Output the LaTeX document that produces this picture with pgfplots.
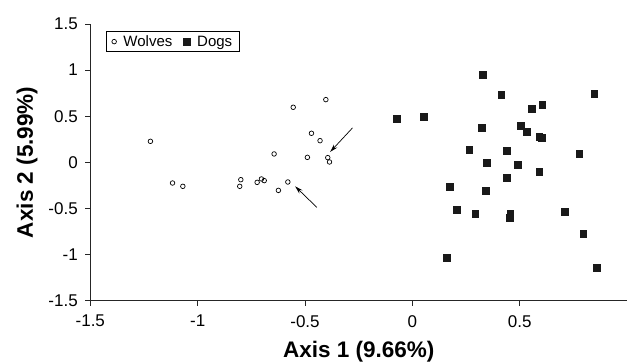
\documentclass[border=0pt]{standalone}
\usepackage{fontspec}
\setmainfont{Liberation Sans}
\usepackage{pgfplots}
\pgfplotsset{compat=1.18}
\usetikzlibrary{arrows.meta}
\begin{document}
\begin{tikzpicture}
\begin{axis}[
  name=ax,
  scale only axis,
  width=536.8pt, height=276.7pt,
  xmin=-1.5, xmax=1.0, ymin=-1.5, ymax=1.5,
  axis x line*=bottom, axis y line*=left,
  axis line style={line width=0.8pt, black!85},
  xtick={-1.5,-1,-0.5,0,0.5},
  xticklabels={-1.5,-1,-0.5,0,0.5},
  ytick={-1.5,-1,-0.5,0,0.5,1,1.5},
  yticklabels={-1.5,-1,-0.5,0,0.5,1,1.5},
  tick align=outside, major tick length=5pt,
  tick style={line width=0.8pt, black!85},
  ticklabel style={font=\fontsize{17}{19}\selectfont},
  xticklabel style={yshift=-6pt},
  yticklabel style={xshift=-4pt},
  xlabel={Axis 1 (9.66\%)}, ylabel={Axis 2 (5.99\%)},
  label style={font=\fontsize{22.5}{25}\selectfont\bfseries},
  xlabel style={at={(axis description cs:0.5,-0.1843)}, anchor=center},
  ylabel style={at={(axis description cs:-0.1179,0.5)}, anchor=center},
  legend columns=-1,
  legend style={at={(0.0293,0.9743)}, anchor=north west, draw=black, line width=0.7pt,
    font=\fontsize{15}{17}\selectfont, inner xsep=5.5pt, inner ysep=2pt,
    /tikz/every odd column/.append style={column sep=5pt},
    /tikz/every even column/.append style={column sep=9pt}},
  clip=false,
]
\addplot[only marks, mark=o, mark size=2.3pt, mark options={line width=0.7pt, black}] coordinates {
(-1.220,0.228) (-1.117,-0.224) (-1.069,-0.260) (-0.799,-0.188) (-0.804,-0.260)
(-0.723,-0.217) (-0.703,-0.180) (-0.690,-0.198) (-0.644,0.091) (-0.624,-0.304)
(-0.580,-0.213) (-0.555,0.597) (-0.489,0.054) (-0.470,0.315) (-0.430,0.235)
(-0.403,0.680) (-0.394,0.051) (-0.386,0.004)
};
\addplot[only marks, mark=square*, mark size=3.4pt, mark options={black!90, fill=black!90, line width=0.4pt}] coordinates {
(0.326,0.948) (0.414,0.731) (0.847,0.742) (0.554,0.579) (0.605,0.622)
(-0.074,0.470) (0.051,0.492) (0.321,0.373) (0.503,0.395) (0.531,0.329)
(0.591,0.279) (0.601,0.264) (0.265,0.134) (0.438,0.123) (0.777,0.091)
(0.345,-0.007) (0.489,-0.028) (0.591,-0.104) (0.438,-0.169) (0.172,-0.267)
(0.340,-0.310) (0.205,-0.516) (0.293,-0.560) (0.456,-0.560) (0.452,-0.603)
(0.708,-0.538) (0.796,-0.777) (0.158,-1.037) (0.857,-1.145)
};
\legend{Wolves, Dogs}
\draw[-{Stealth[length=8pt,width=4.5pt]}, line width=0.7pt] (axis cs:-0.279,0.373) -- (axis cs:-0.383,0.113);
\draw[-{Stealth[length=8pt,width=4.5pt]}, line width=0.7pt] (axis cs:-0.445,-0.488) -- (axis cs:-0.546,-0.260);
\end{axis}
\pgfresetboundingbox
\path[use as bounding box] (ax.south west) ++(-90.3pt,-62.3pt) rectangle ++(630pt,363pt);
\end{tikzpicture}
\end{document}
